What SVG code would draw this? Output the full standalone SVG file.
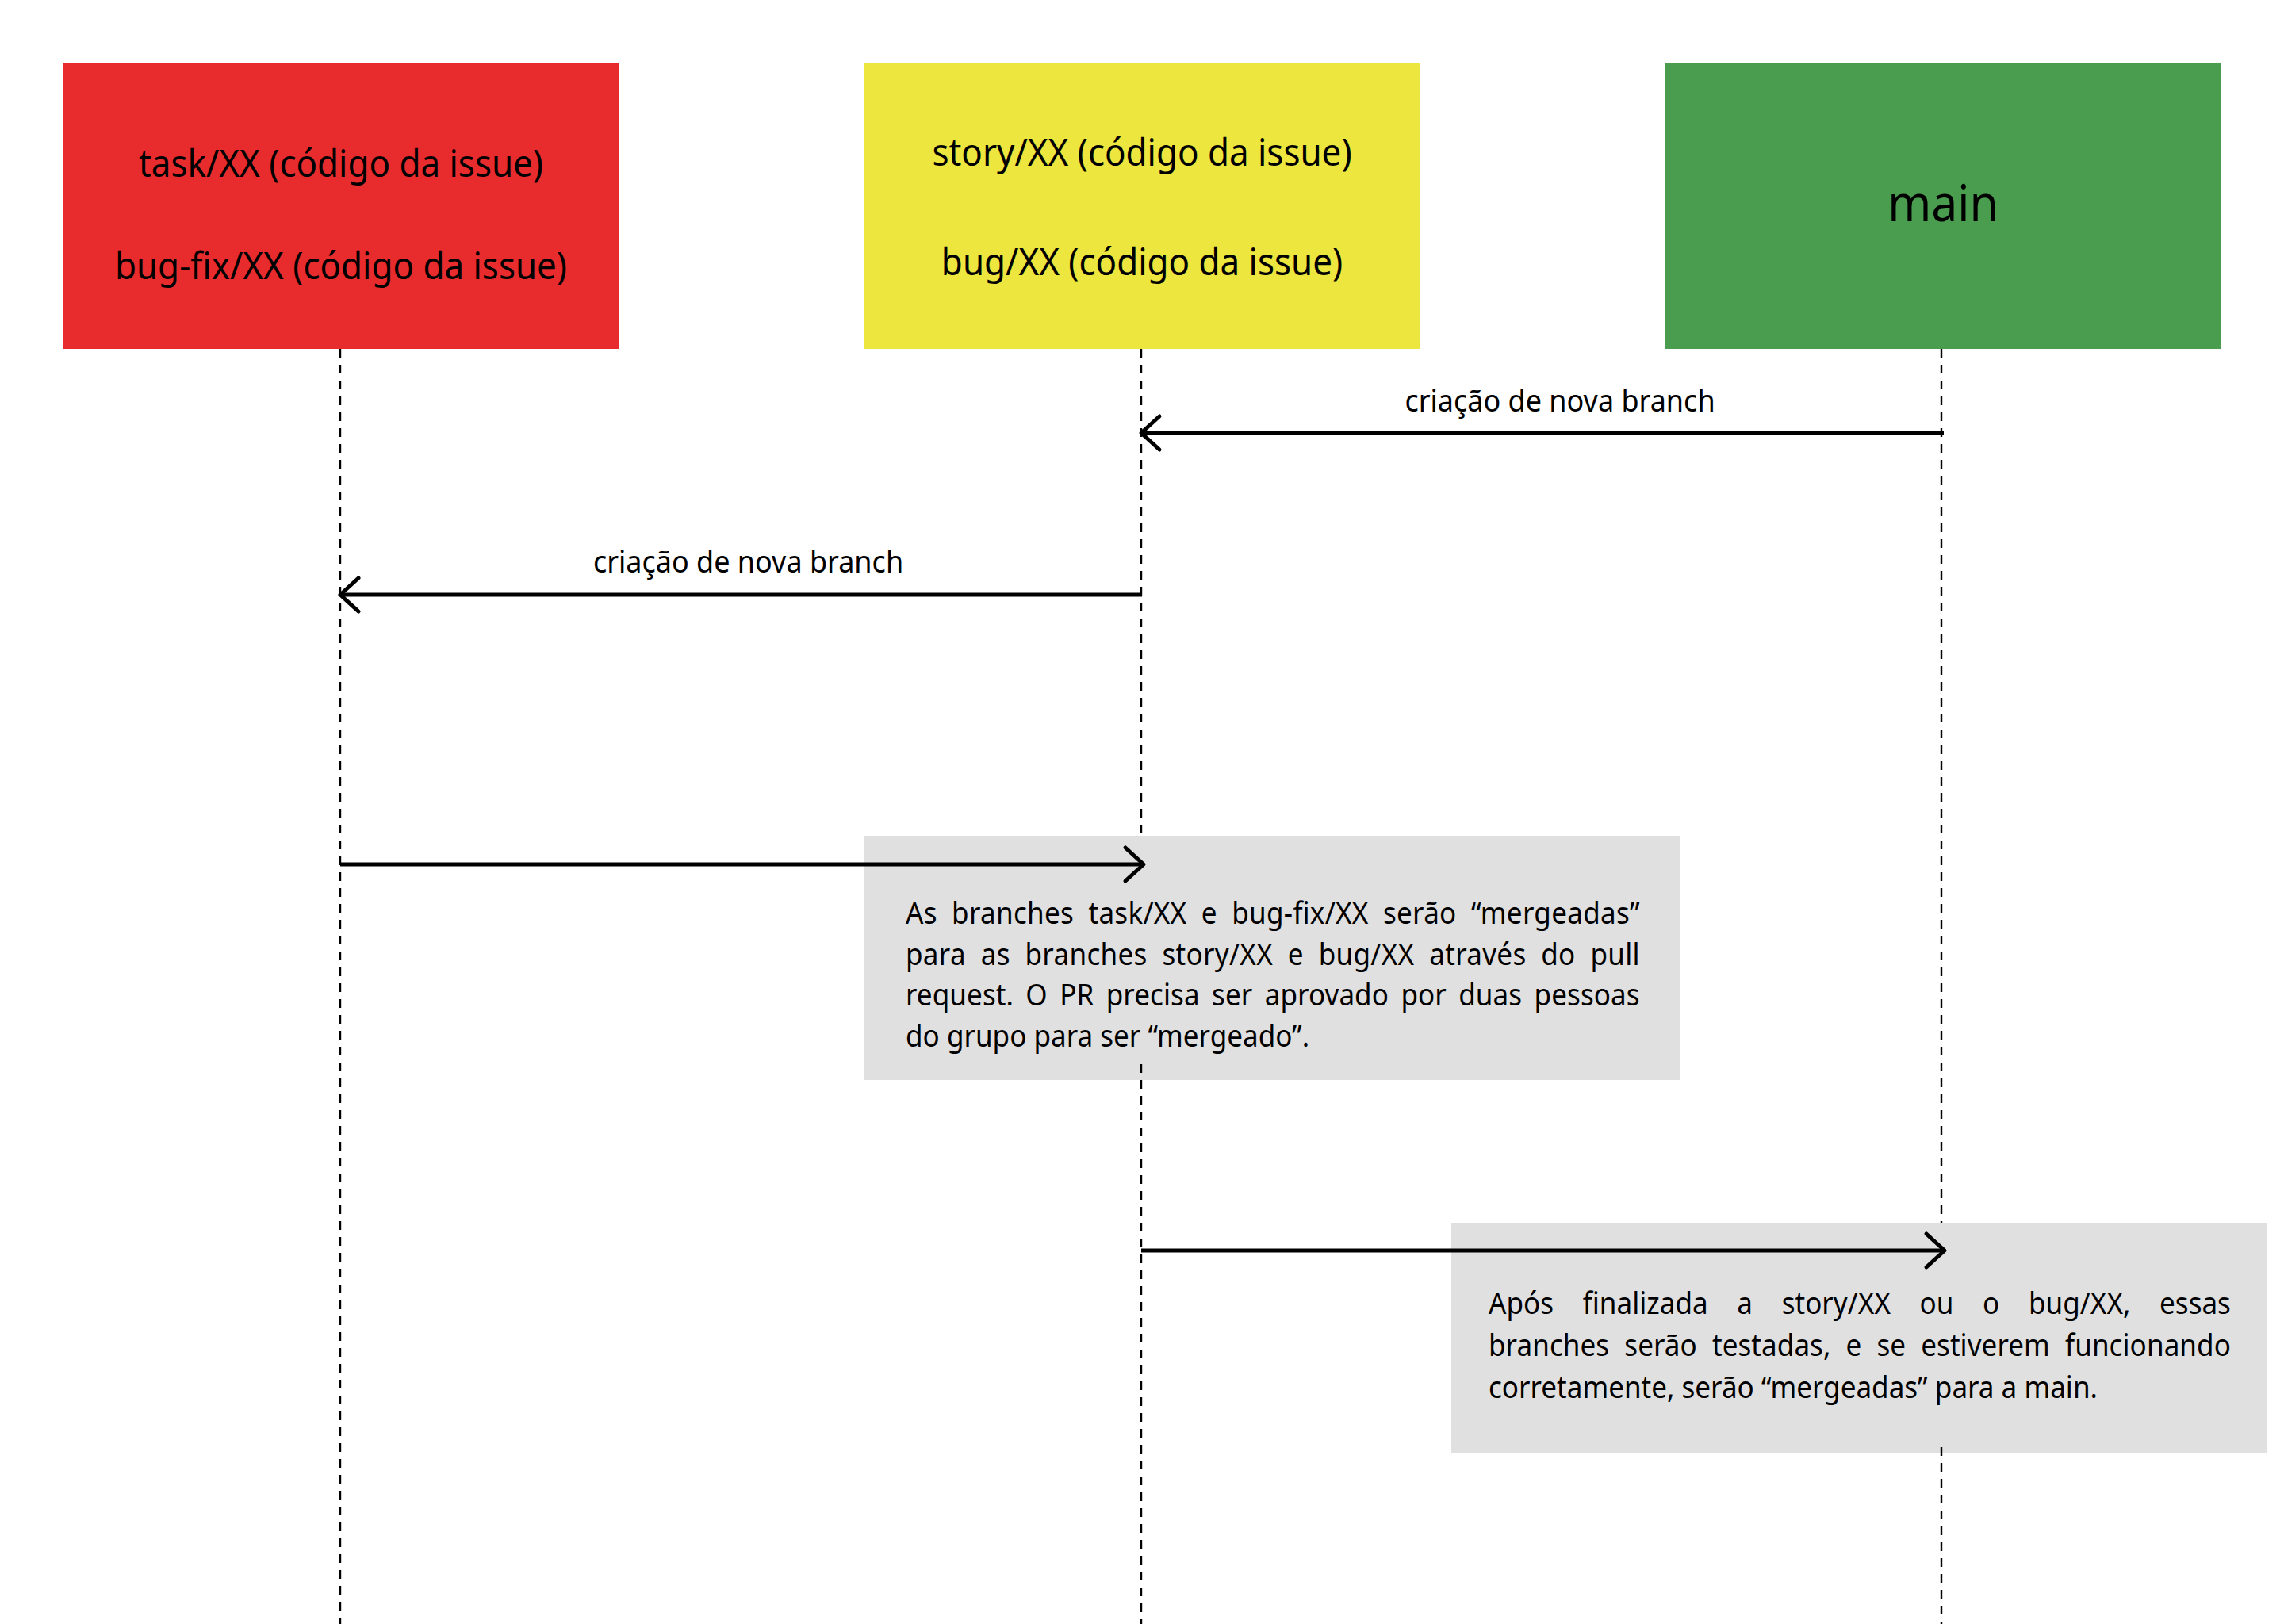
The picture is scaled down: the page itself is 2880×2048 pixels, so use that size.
<svg xmlns="http://www.w3.org/2000/svg" width="2880" height="2048" viewBox="0 0 2880 2048">
<style>
.lane{fill:none;stroke:#000;stroke-width:2.4;stroke-dasharray:11 9}
.msg{fill:none;stroke:#000;stroke-width:5}
.hd{font-size:47px}
.big{font-size:63px}
.lbl{font-size:38.5px}
.note{font-size:37.5px}
text{font-family:"Noto Sans","Open Sans","Liberation Sans",sans-serif;fill:#000}
</style>
<defs>
<marker id="open" markerUnits="userSpaceOnUse" markerWidth="60" markerHeight="60" viewBox="-30 -30 60 60" refX="0" refY="0" orient="auto" overflow="visible">
<path d="M-23,-21 L0,0 L-23,21" fill="none" stroke="#000" stroke-width="5" stroke-linecap="round" stroke-linejoin="round"/>
</marker>
</defs>
<rect width="2880" height="2048" fill="#fff"/>

<g id="lifelines">
<path class="lane" d="M429 440 V2048"/>
<path class="lane" d="M1439 440 V1342"/>
<path class="lane" d="M2448 440 V1825"/>
</g>

<g id="node-task">
<rect x="80" y="80" width="700" height="360" fill="#e82c2e"/>
<text class="hd" text-anchor="middle" transform="translate(430 223) scale(0.935 1)">task/XX (código da issue)</text>
<text class="hd" text-anchor="middle" transform="translate(430 352) scale(0.935 1)">bug-fix/XX (código da issue)</text>
</g>

<g id="node-story">
<rect x="1090" y="80" width="700" height="360" fill="#ede63e"/>
<text class="hd" text-anchor="middle" transform="translate(1440 209) scale(0.935 1)">story/XX (código da issue)</text>
<text class="hd" text-anchor="middle" transform="translate(1440 347) scale(0.935 1)">bug/XX (código da issue)</text>
</g>

<g id="node-main">
<rect x="2100" y="80" width="700" height="360" fill="#4a9d4f"/>
<text class="big" text-anchor="middle" transform="translate(2450 279) scale(0.935 1)">main</text>
</g>

<g id="note-pr">
<rect x="1090" y="1054" width="1028" height="308" fill="#e0e0e0"/>
<g class="note" transform="translate(1142 0) scale(0.935 1)">
<text x="0" y="1165" word-spacing="9.6" textLength="990" lengthAdjust="spacing">As branches task/XX e bug-fix/XX serão “mergeadas”</text>
<text x="0" y="1217" word-spacing="10" textLength="990" lengthAdjust="spacing">para as branches story/XX e bug/XX através do pull</text>
<text x="0" y="1268" word-spacing="6.6" textLength="990" lengthAdjust="spacing">request. O PR precisa ser aprovado por duas pessoas</text>
<text x="0" y="1320">do grupo para ser “mergeado”.</text>
</g>
</g>

<g id="note-main">
<rect x="1830" y="1542" width="1028" height="290" fill="#e0e0e0"/>
<g class="note" transform="translate(1877 0) scale(0.935 1)">
<text x="0" y="1657" word-spacing="29.4" textLength="1001" lengthAdjust="spacing">Após finalizada a story/XX ou o bug/XX, essas</text>
<text x="0" y="1710" word-spacing="10.6" textLength="1001" lengthAdjust="spacing">branches serão testadas, e se estiverem funcionando</text>
<text x="0" y="1763">corretamente, serão “mergeadas” para a main.</text>
</g>
</g>

<g id="lifelines-lower">
<path class="lane" d="M1439 1342 V2048"/>
<path class="lane" d="M2448 1825 V2048"/>
</g>

<g id="connectors">
<path class="msg" d="M2451 546 H1439" marker-end="url(#open)"/>
<text class="lbl" text-anchor="middle" transform="translate(1967 519) scale(0.935 1)">criação de nova branch</text>
<path class="msg" d="M1440 750 H429" marker-end="url(#open)"/>
<text class="lbl" text-anchor="middle" transform="translate(943.5 722) scale(0.935 1)">criação de nova branch</text>
<path class="msg" d="M429 1090 H1442" marker-end="url(#open)"/>
<path class="msg" d="M1439 1577 H2452" marker-end="url(#open)"/>
</g>
</svg>
